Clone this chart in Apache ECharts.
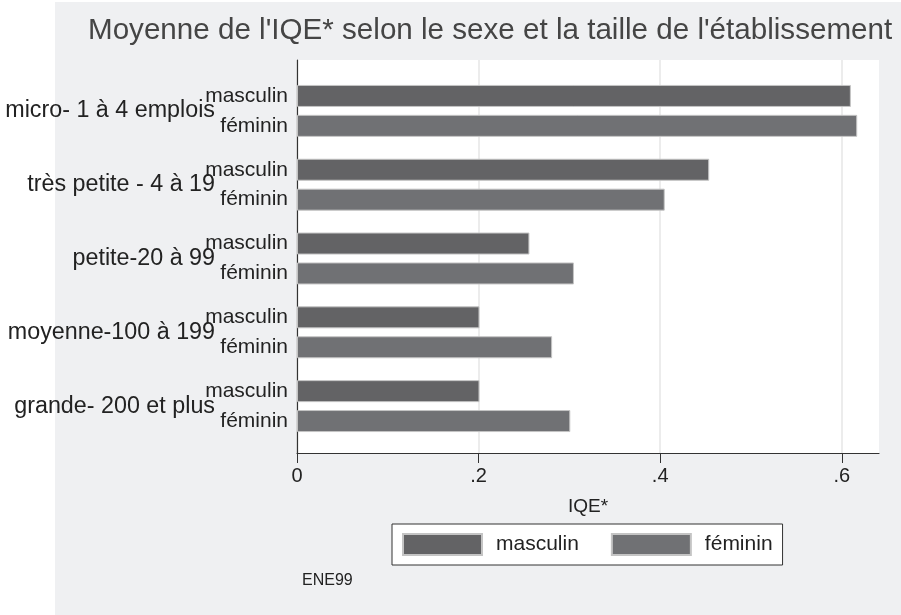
<!DOCTYPE html>
<html>
<head>
<meta charset="utf-8">
<script src="https://cdn.jsdelivr.net/npm/echarts@6/dist/echarts.min.js"></script>
<style>
  html, body { margin: 0; padding: 0; background: #fff; }
  #chart { width: 901px; height: 615px; }
</style>
</head>
<body>
<div id="chart"></div>
<script>
// taille de l'établissement
const categories = [
  "micro- 1 à 4 emplois",
  "très petite - 4 à 19",
  "petite-20 à 99",
  "moyenne-100 à 199",
  "grande- 200 et plus",
];
const masculin = [0.610, 0.454, 0.256, 0.201, 0.201];
const feminin = [0.617, 0.405, 0.305, 0.281, 0.301];
const xTicks = [0, 0.2, 0.4, 0.6];

const font = "Liberation Sans";
const xMax = 0.641;

let chart = echarts.init(document.getElementById("chart"));

const option = {
  backgroundColor: "#ffffff",
  animation: false,
  textStyle: { fontFamily: font },
  title: {
    text: "Moyenne de l'IQE* selon le sexe et la taille de l'établissement",
    left: 88,
    top: 16,
    padding: 0,
    textStyle: { fontFamily: font, fontSize: 29.6, fontWeight: "normal", color: "#454545" },
  },
  graphic: [
    {
      type: "rect",
      z: -10,
      silent: true,
      shape: { x: 55, y: 2, width: 846, height: 613 },
      style: { fill: "#eff0f2" },
    },
    {
      type: "text",
      left: 302,
      top: 573,
      style: { text: "ENE99", font: "16px " + font, fill: "#222" },
    },
  ],
  legend: {
    left: 392,
    top: 524,
    orient: "horizontal",
    padding: [9, 10, 9, 10],
    backgroundColor: "#ffffff",
    borderColor: "#333",
    borderWidth: 1,
    itemWidth: 79,
    itemHeight: 21,
    itemGap: 32,
    icon: "rect",
    textStyle: { fontFamily: font, fontSize: 21, color: "#222", padding: [0, 0, 0, 9] },
    data: ["masculin", "féminin"],
  },
  grid: [
    // plot background + axes
    { left: 297, right: 22, top: 60, bottom: 162, show: true, backgroundColor: "#ffffff", borderWidth: 0 },
    // bars
    { left: 297, right: 22, top: 74, bottom: 172, show: false },
  ],
  xAxis: [
    {
      gridIndex: 0,
      type: "value",
      min: 0,
      max: xMax,
      name: "IQE*",
      nameLocation: "middle",
      nameGap: 44,
      nameTextStyle: { fontFamily: font, fontSize: 19, color: "#222" },
      axisLine: { show: true, lineStyle: { color: "#333", width: 1.2 } },
      axisTick: { show: true, length: 10, customValues: xTicks, lineStyle: { color: "#333" } },
      axisLabel: {
        customValues: xTicks,
        margin: 13,
        fontFamily: font,
        fontSize: 20,
        color: "#222",
        formatter: (v) => (v === 0 ? "0" : String(+v.toFixed(1)).replace(/^0/, "")),
      },
      splitLine: { show: true, lineStyle: { color: "#e6e6e6", width: 1.5 } },
    },
    { gridIndex: 1, type: "value", min: 0, max: xMax, show: false },
  ],
  yAxis: [
    {
      gridIndex: 0,
      type: "value",
      axisLine: { show: true, lineStyle: { color: "#333", width: 1.2 } },
      axisTick: { show: false },
      axisLabel: { show: false },
      splitLine: { show: false },
    },
    {
      gridIndex: 1,
      type: "category",
      inverse: true,
      data: categories,
      axisLine: { show: false },
      axisTick: { show: false },
      axisLabel: { margin: 82, fontFamily: font, fontSize: 23.3, color: "#222" },
    },
  ],
  series: [
    {
      name: "masculin",
      type: "bar",
      xAxisIndex: 1,
      yAxisIndex: 1,
      data: masculin,
      barWidth: 22,
      barGap: "36%",
      itemStyle: { color: "#636365", borderColor: "#c4c4c4", borderWidth: 1 },
      label: {
        show: true,
        position: "left",
        distance: 9,
        formatter: "{a}",
        fontFamily: font,
        fontSize: 21,
        color: "#222",
      },
    },
    {
      name: "féminin",
      type: "bar",
      xAxisIndex: 1,
      yAxisIndex: 1,
      data: feminin,
      barWidth: 22,
      itemStyle: { color: "#707174", borderColor: "#c4c4c4", borderWidth: 1 },
      label: {
        show: true,
        position: "left",
        distance: 9,
        formatter: "{a}",
        fontFamily: font,
        fontSize: 21,
        color: "#222",
      },
    },
  ],
};

chart.setOption(option, true);

window.addEventListener("resize", () => {
  if (chart) {
    chart.resize();
  }
});
</script>
</body>
</html>
